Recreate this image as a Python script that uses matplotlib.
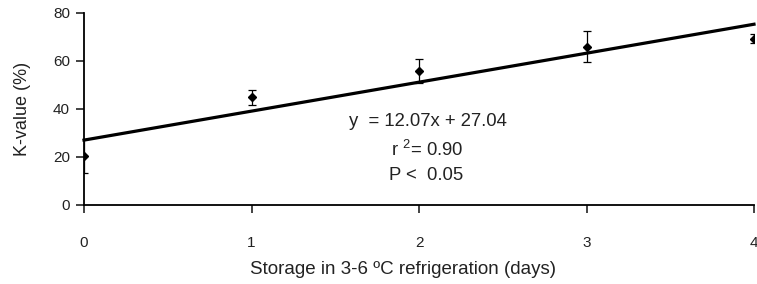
import matplotlib.pyplot as plt
import numpy as np

plt.rcParams['font.family'] = ['Liberation Sans', 'DejaVu Sans']

# data
days = [0, 1, 2, 3, 4]
k_value = [20.4, 44.8, 56.0, 66.0, 69.3]
k_err = [7.2, 3.0, 5.0, 6.5, 2.0]
slope, intercept = 12.07, 27.04

fig = plt.figure(figsize=(7.57, 2.84), dpi=100)
ax = fig.add_axes([84 / 757, 1 - 205 / 284, 670 / 757, 192 / 284])

# regression line
xfit = np.array([0, 4])
ax.plot(xfit, slope * xfit + intercept, color='black', lw=2.3, zorder=2, clip_on=False)

# mean points with error bars
ax.errorbar(days, k_value, yerr=k_err, fmt='D', color='black', ms=4.5,
            elinewidth=0.9, capsize=3, capthick=0.9, zorder=3)

ax.set_xlim(0, 4)
ax.set_ylim(0, 80)
ax.set_xticks(days)
ax.set_yticks([0, 20, 40, 60, 80])
ax.tick_params(axis='x', direction='out', length=6, width=1.2, pad=16, labelsize=11, colors='#222222')
ax.tick_params(axis='y', direction='out', length=6, width=1.2, pad=4, labelsize=11, colors='#222222')
for side in ['top', 'right']:
    ax.spines[side].set_visible(False)
for side in ['left', 'bottom']:
    ax.spines[side].set_linewidth(1.3)

ax.set_ylabel('K-value (%)', fontsize=13, color='#222222', labelpad=16)
ax.set_xlabel('Storage in 3-6 ºC refrigeration (days)', fontsize=13.5,
              color='#222222', labelpad=7)
ax.xaxis.set_label_coords(0.476, -0.29)
ax.xaxis.label.set_va('top')

# equation text
ax.text(1.58, 34.6, 'y  = 12.07x + 27.04', fontsize=13.3, color='#222222', va='center')
ax.text(1.83, 22.8, 'r $^{\\mathregular{2}}$= 0.90', fontsize=13.3, color='#222222', va='center')
ax.text(1.82, 12.4, 'P <  0.05', fontsize=13.3, color='#222222', va='center')

fig.savefig('out.png', dpi=100)
